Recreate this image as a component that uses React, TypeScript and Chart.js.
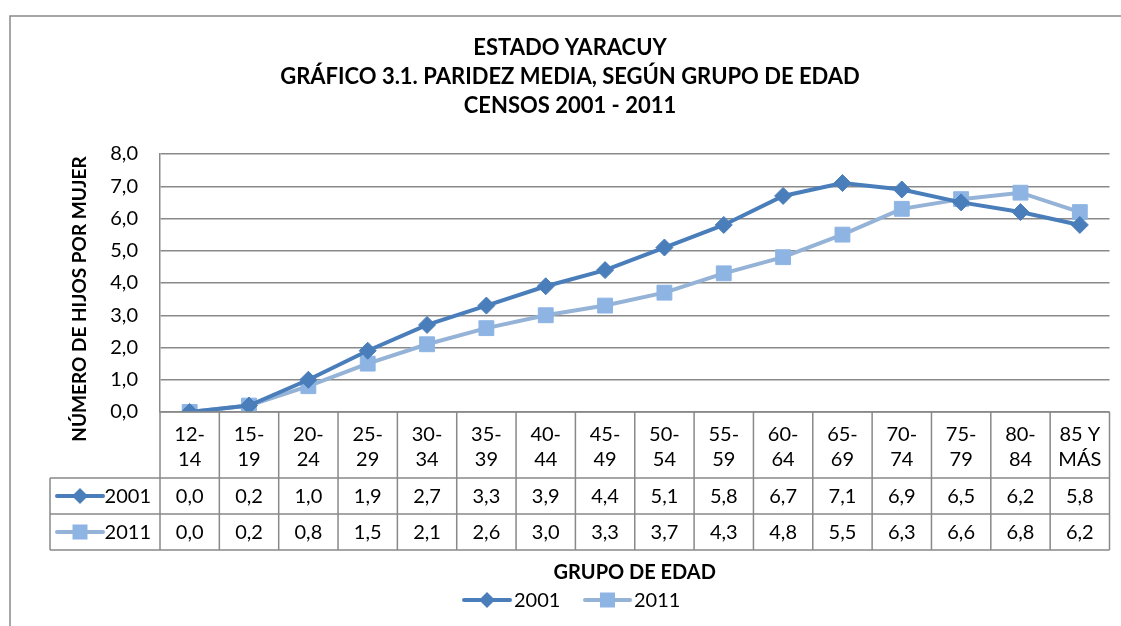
import React, { useEffect, useRef } from "react";
import { Chart, registerables } from "chart.js";

Chart.register(...registerables);

const categoryLines: string[][] = [
  ["12-", "14"], ["15-", "19"], ["20-", "24"], ["25-", "29"], ["30-", "34"],
  ["35-", "39"], ["40-", "44"], ["45-", "49"], ["50-", "54"], ["55-", "59"],
  ["60-", "64"], ["65-", "69"], ["70-", "74"], ["75-", "79"], ["80-", "84"],
  ["85 Y", "MÁS"],
];
const categories = categoryLines.map((l) => l.join(" "));
const series2001 = [0.0, 0.2, 1.0, 1.9, 2.7, 3.3, 3.9, 4.4, 5.1, 5.8, 6.7, 7.1, 6.9, 6.5, 6.2, 5.8];
const series2011 = [0.0, 0.2, 0.8, 1.5, 2.1, 2.6, 3.0, 3.3, 3.7, 4.3, 4.8, 5.5, 6.3, 6.6, 6.8, 6.2];
const seriesNames = ["2001", "2011"];
const titleLines = ["ESTADO YARACUY", "GRÁFICO 3.1. PARIDEZ MEDIA, SEGÚN GRUPO DE EDAD", "CENSOS 2001 - 2011"];
const yTitle = "NÚMERO DE HIJOS POR MUJER";
const xTitle = "GRUPO DE EDAD";

const C2001 = "#4A7EBB";
const C2011_LINE = "#95B3D7";
const C2011_MARK = "#8DB4E3";
const GRID = "#898989";
const FONT = "Lato, 'Open Sans', sans-serif";

const fmt = (v: number) => v.toFixed(1).replace(".", ",");

function drawDiamond(ctx: CanvasRenderingContext2D, x: number, y: number, r: number, color: string) {
  ctx.beginPath();
  ctx.moveTo(x - r, y);
  ctx.lineTo(x, y - r);
  ctx.lineTo(x + r, y);
  ctx.lineTo(x, y + r);
  ctx.closePath();
  ctx.fillStyle = color;
  ctx.fill();
}
function drawSquare(ctx: CanvasRenderingContext2D, x: number, y: number, s: number, color: string) {
  ctx.fillStyle = color;
  ctx.fillRect(x - s / 2, y - s / 2, s, s);
}
function legendSymbol(ctx: CanvasRenderingContext2D, idx: number, x0: number, x1: number, y: number) {
  ctx.save();
  ctx.strokeStyle = idx === 0 ? C2001 : C2011_LINE;
  ctx.lineWidth = 4;
  ctx.lineCap = "round";
  ctx.beginPath();
  ctx.moveTo(x0, y);
  ctx.lineTo(x1, y);
  ctx.stroke();
  const cx = (x0 + x1) / 2;
  if (idx === 0) drawDiamond(ctx, cx, y, 8, C2001);
  else drawSquare(ctx, cx, y, 15, C2011_MARK);
  ctx.restore();
}

const decorPlugin = {
  id: "decor",
  beforeDraw(chart: any) {
    const ctx: CanvasRenderingContext2D = chart.ctx;
    ctx.save();
    ctx.fillStyle = "#fff";
    ctx.fillRect(0, 0, chart.width, chart.height);
    ctx.strokeStyle = GRID;
    ctx.lineWidth = 1.5;
    ctx.beginPath();
    ctx.moveTo(10, chart.height);
    ctx.lineTo(10, 16);
    ctx.lineTo(chart.width, 16);
    ctx.stroke();
    ctx.restore();
  },
  afterDraw(chart: any) {
    const ctx: CanvasRenderingContext2D = chart.ctx;
    const area = chart.chartArea;
    const xs = chart.scales.x;
    ctx.save();
    ctx.fillStyle = "#000";
    ctx.textAlign = "center";
    ctx.textBaseline = "middle";
    // title
    ctx.font = `bold 22px ${FONT}`;
    titleLines.forEach((t, i) => ctx.fillText(t, 570, 48 + i * 29));
    // y title
    ctx.save();
    ctx.translate(80, 299);
    ctx.rotate(-Math.PI / 2);
    ctx.font = `bold 19px ${FONT}`;
    ctx.fillText(yTitle, 0, 0);
    ctx.restore();

    // data table
    const n = categories.length;
    const left = area.left;
    const right = area.right;
    const colW = (right - left) / n;
    const yTop = area.bottom;
    const yH = yTop + 66;
    const yR1 = yH + 36;
    const yR2 = yR1 + 36;
    const legL = 50;
    ctx.strokeStyle = GRID;
    ctx.lineWidth = 1.5;
    ctx.beginPath();
    ctx.moveTo(left, yTop); ctx.lineTo(right, yTop);
    ctx.moveTo(legL, yH); ctx.lineTo(right, yH);
    ctx.moveTo(legL, yR1); ctx.lineTo(right, yR1);
    ctx.moveTo(legL, yR2); ctx.lineTo(right, yR2);
    for (let i = 0; i <= n; i++) {
      const x = left + i * colW;
      ctx.moveTo(x, yTop); ctx.lineTo(x, yR2);
    }
    ctx.moveTo(legL, yH); ctx.lineTo(legL, yR2);
    ctx.stroke();

    ctx.fillStyle = "#000";
    ctx.font = `20px ${FONT}`;
    categoryLines.forEach((lines, i) => {
      const cx = xs.getPixelForValue(i);
      ctx.fillText(lines[0], cx, yTop + 23);
      ctx.fillText(lines[1], cx, yTop + 48);
    });
    ctx.font = `20px ${FONT}`;
    const rows = [series2001, series2011];
    rows.forEach((vals, r) => {
      const cy = (r === 0 ? (yH + yR1) / 2 : (yR1 + yR2) / 2) + 1;
      vals.forEach((v, i) => {
        ctx.fillText(fmt(v), xs.getPixelForValue(i), cy);
      });
      legendSymbol(ctx, r, 57, 103, cy - 1);
      ctx.textAlign = "right";
      ctx.fillText(seriesNames[r], 151, cy);
      ctx.textAlign = "center";
    });

    // x title
    ctx.font = `bold 20px ${FONT}`;
    ctx.fillText(xTitle, (left + right) / 2, 573);

    // legend
    ctx.font = `20px ${FONT}`;
    ctx.textAlign = "left";
    legendSymbol(ctx, 0, 464, 510, 600);
    ctx.fillText(seriesNames[0], 514, 601);
    legendSymbol(ctx, 1, 585, 630, 600);
    ctx.fillText(seriesNames[1], 634, 601);
    ctx.restore();
  },
};

export default function App() {
  const ref = useRef<HTMLCanvasElement | null>(null);
  useEffect(() => {
    if (!ref.current) return;
    const chart = new Chart(ref.current, {
      type: "line",
      data: {
        labels: categories,
        datasets: [
          {
            label: seriesNames[0],
            data: series2001,
            borderColor: C2001,
            backgroundColor: C2001,
            borderWidth: 4,
            pointStyle: "rectRot",
            pointRadius: 8.5,
            pointBorderWidth: 1,
            pointBackgroundColor: C2001,
            pointBorderColor: C2001,
            tension: 0,
          },
          {
            label: seriesNames[1],
            data: series2011,
            borderColor: C2011_LINE,
            backgroundColor: C2011_MARK,
            borderWidth: 4,
            pointStyle: "rect",
            pointRadius: 10.5,
            pointBorderWidth: 1,
            pointBackgroundColor: C2011_MARK,
            pointBorderColor: C2011_MARK,
            tension: 0,
          },
        ],
      },
      options: {
        responsive: false,
        animation: false,
        layout: { padding: { left: 0, top: 154, right: 7, bottom: 214 } },
        plugins: {
          legend: { display: false },
          title: { display: false },
          tooltip: { enabled: false },
        },
        scales: {
          x: {
            type: "category",
            offset: true,
            display: false,
            grid: { display: false },
          },
          y: {
            min: 0,
            max: 8,
            afterFit: (s: any) => {
              s.width = 160;
            },
            ticks: {
              stepSize: 1,
              padding: 22,
              color: "#000",
              font: { family: FONT, size: 20 },
              callback: (v: any) => fmt(Number(v)),
            },
            grid: { color: GRID, lineWidth: 1.5, drawTicks: false },
            border: { display: true, color: GRID, width: 1.5 },
          },
        },
      },
      plugins: [decorPlugin],
    });
    return () => chart.destroy();
  }, []);
  return (
    <div style={{ position: "absolute", left: 0, top: 0, width: 1121, height: 626 }}>
      <canvas ref={ref} width={1121} height={626} />
    </div>
  );
}
